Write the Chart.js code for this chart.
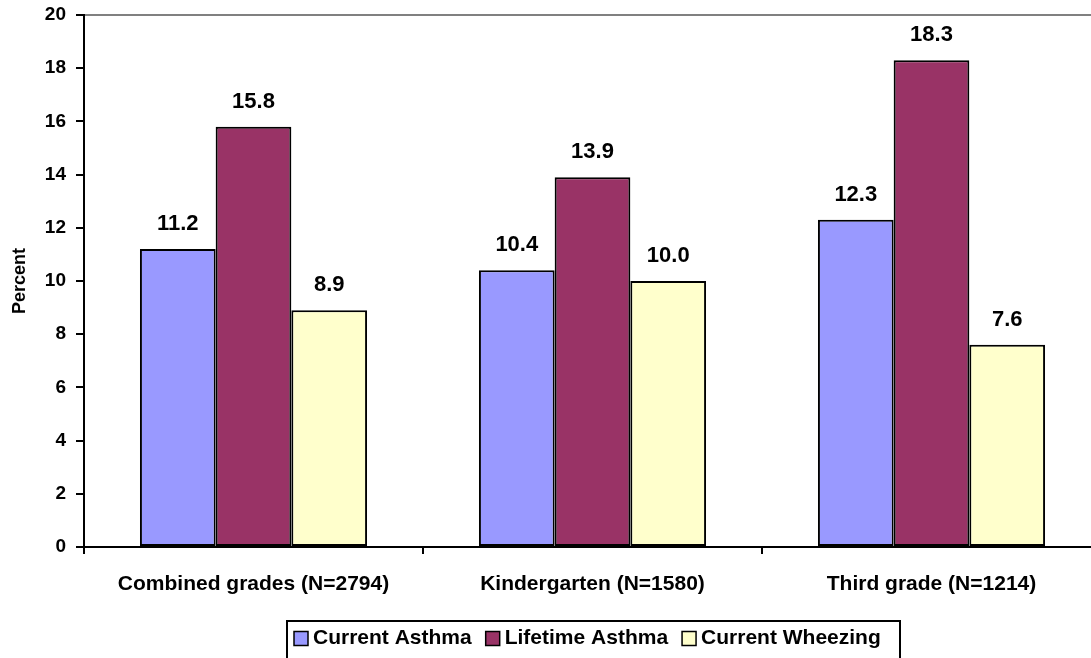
<!DOCTYPE html>
<html>
<head>
<meta charset="utf-8">
<script src="https://cdn.jsdelivr.net/npm/chart.js@4.4.0/dist/chart.umd.min.js"></script>
<style>
  html, body { margin: 0; padding: 0; background: #fff; overflow: hidden; }
  canvas { display: block; }
</style>
</head>
<body>
<canvas id="c" width="1120" height="658"></canvas>
<script>
const categories = ["Combined grades (N=2794)", "Kindergarten (N=1580)", "Third grade (N=1214)"];
const currentAsthma = [11.2, 10.4, 12.3];
const lifetimeAsthma = [15.8, 13.9, 18.3];
const currentWheezing = [8.9, 10.0, 7.6];
const seriesNames = ["Current Asthma", "Lifetime Asthma", "Current Wheezing"];
const seriesColors = ["#9999FF", "#993366", "#FFFFCC"];
const yTicks = [0, 2, 4, 6, 8, 10, 12, 14, 16, 18, 20];

const FONT = "'Liberation Sans', Arial, Helvetica, sans-serif";

const valueLabels = {
  id: "valueLabels",
  afterDatasetsDraw(chart) {
    const ctx = chart.ctx;
    ctx.save();
    ctx.font = "bold 22px " + FONT;
    ctx.fillStyle = "#000";
    ctx.textAlign = "center";
    ctx.textBaseline = "middle";
    chart.data.datasets.forEach((ds, i) => {
      const meta = chart.getDatasetMeta(i);
      meta.data.forEach((bar, j) => {
        ctx.fillText(ds.data[j].toFixed(1), bar.x, bar.y - 25);
      });
    });
    ctx.restore();
  }
};

const boxedLegend = {
  id: "boxedLegend",
  afterDraw(chart) {
    const ctx = chart.ctx;
    ctx.save();
    ctx.lineWidth = 2;
    ctx.strokeStyle = "#000";
    ctx.strokeRect(287, 621, 613, 60);
    ctx.font = "bold 21px " + FONT;
    ctx.textBaseline = "middle";
    ctx.textAlign = "left";
    let x = 294;
    const cy = 638.5;
    chart.data.datasets.forEach((ds) => {
      ctx.fillStyle = ds.backgroundColor;
      ctx.fillRect(x, cy - 7, 14, 14);
      ctx.lineWidth = 1.5;
      ctx.strokeRect(x, cy - 7, 14, 14);
      ctx.fillStyle = "#000";
      ctx.fillText(ds.label, x + 19, cy);
      x += 19 + ctx.measureText(ds.label).width + 14;
    });
    ctx.restore();
  }
};

const datasets = [currentAsthma, lifetimeAsthma, currentWheezing].map((d, i) => ({
  label: seriesNames[i],
  data: d,
  backgroundColor: seriesColors[i],
  borderColor: "#000",
  borderWidth: 2,
  borderSkipped: false,
  categoryPercentage: 0.67,
  barPercentage: 1.0
}));

new Chart(document.getElementById("c"), {
  type: "bar",
  data: { labels: categories, datasets },
  options: {
    responsive: false,
    animation: false,
    devicePixelRatio: 1,
    layout: { padding: { top: 15, right: 19, left: 0, bottom: 0 } },
    plugins: {
      legend: { display: false },
      tooltip: { enabled: false }
    },
    scales: {
      x: {
        afterFit(s) { s.height = 111; s.paddingLeft = 0; s.paddingRight = 0; },
        grid: {
          offset: true,
          drawOnChartArea: false,
          tickLength: 7,
          tickColor: "#000",
          lineWidth: 2
        },
        border: { color: "#000", width: 2 },
        ticks: {
          color: "#000",
          font: { family: FONT, size: 21, weight: "bold" },
          padding: 18,
          maxRotation: 0
        }
      },
      y: {
        min: 0,
        max: 20,
        afterFit(s) { s.width = 84; s.paddingTop = 0; s.paddingBottom = 0; },
        afterBuildTicks(s) { s.ticks = yTicks.map(v => ({ value: v })); },
        grid: {
          color: (c) => (c.tick && c.tick.value === 20 ? "#808080" : "rgba(0,0,0,0)"),
          tickColor: "#000",
          tickLength: 8,
          lineWidth: 2
        },
        border: { color: "#000", width: 2 },
        ticks: {
          color: "#000",
          font: { family: FONT, size: 19, weight: "bold" },
          padding: 10
        },
        title: {
          display: true,
          text: "Percent",
          color: "#000",
          font: { family: FONT, size: 18, weight: "bold" },
          padding: { top: 9, bottom: 0 }
        }
      }
    }
  },
  plugins: [valueLabels, boxedLegend]
});
</script>
</body>
</html>
